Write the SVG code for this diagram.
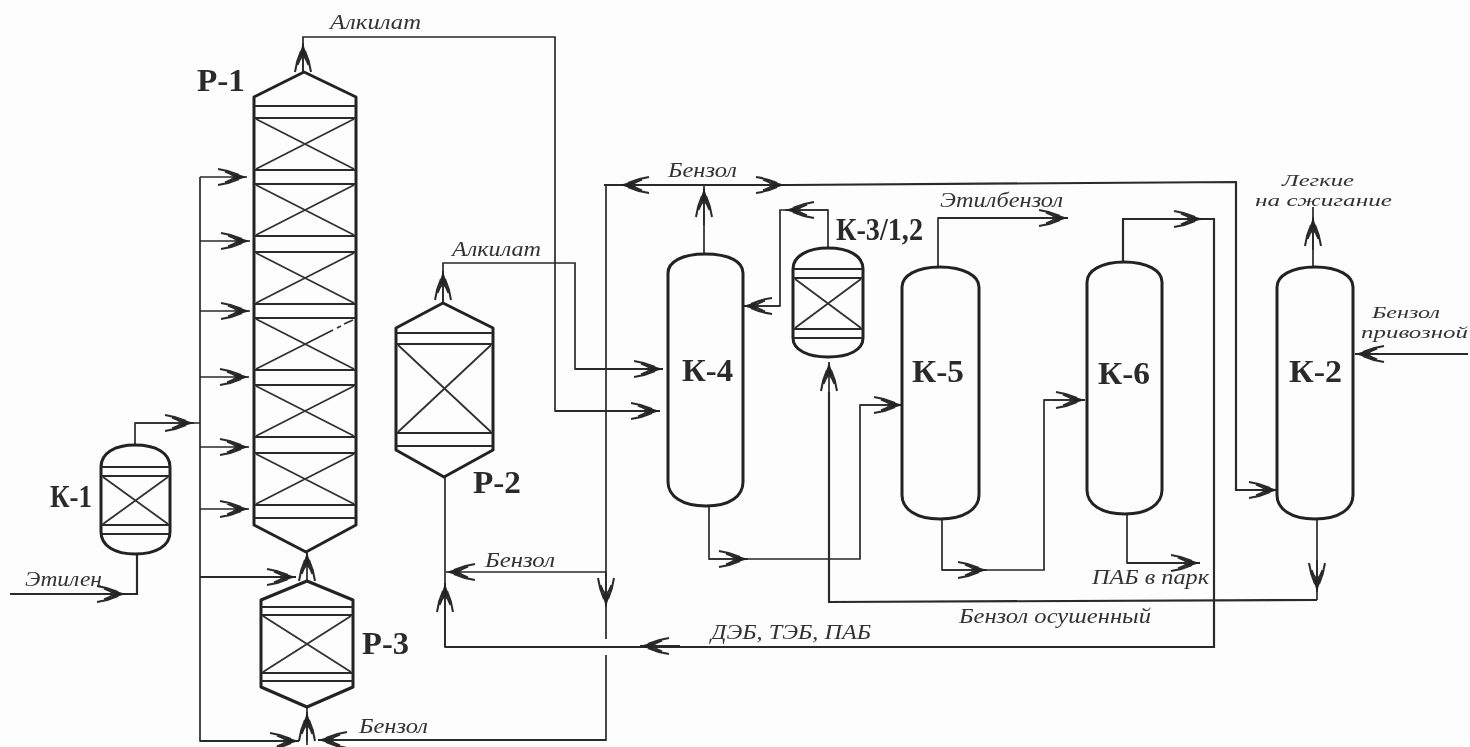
<svg xmlns="http://www.w3.org/2000/svg" width="1470" height="747" viewBox="0 0 1470 747">
<style>
.v{fill:none;stroke:#222;stroke-width:3;stroke-linejoin:round}
.b{fill:none;stroke:#2a2a2a;stroke-width:2.2}
.x{fill:none;stroke:#303030;stroke-width:1.8}
.c{fill:none;stroke:#2a2a2a;stroke-width:1.7}
.c2{fill:none;stroke:#2a2a2a;stroke-width:2.2}
.a{fill:none;stroke:#2a2a2a;stroke-width:1.7}
.l{font-family:"Liberation Serif",serif;font-style:italic;font-size:20px;fill:#333}
.s{font-size:17px}
.n{font-family:"Liberation Serif",serif;font-weight:bold;font-size:31px;fill:#2a2a2a}
</style>
<defs>
<filter id="soft" x="0" y="0" width="1470" height="747" filterUnits="userSpaceOnUse"><feGaussianBlur stdDeviation="0.55"/></filter>
<marker id="ah" markerUnits="userSpaceOnUse" markerWidth="32" markerHeight="22" refX="30" refY="11" orient="auto" overflow="visible">
<path d="M30,11 L15,6.5 Q18,11 15,15.5 Z" fill="#222"/>
<path d="M1,3 Q12,4.5 22,9 M1,19 Q12,17.5 22,13 M8,5.5 Q14,7.5 18,11 Q14,14.5 8,16.5" fill="none" stroke="#2a2a2a" stroke-width="2"/>
</marker>
</defs>
<rect width="1470" height="747" fill="#fdfdfd"/>
<g filter="url(#soft)">
<g id="connectors">
<path class="c" d="M303,72 V37 H555 V411 H635"/>
<path class="a" d="M303,72 V43" marker-end="url(#ah)"/>
<path class="c2" d="M555,411 H660" marker-end="url(#ah)"/>
<path class="c" d="M443,303 V263 H575 V369 H635"/>
<path class="a" d="M443,303 V271" marker-end="url(#ah)"/>
<path class="c2" d="M575,369 H663" marker-end="url(#ah)"/>
<path class="c" d="M200,177 V741 H299"/>
<path class="a" d="M200,177 H247" marker-end="url(#ah)"/>
<path class="a" d="M200,241 H250" marker-end="url(#ah)"/>
<path class="a" d="M200,311 H250" marker-end="url(#ah)"/>
<path class="a" d="M200,377 H249" marker-end="url(#ah)"/>
<path class="a" d="M200,447 H249" marker-end="url(#ah)"/>
<path class="a" d="M200,509 H249" marker-end="url(#ah)"/>
<path class="c2" d="M200,577 H296" marker-end="url(#ah)"/>
<path class="c" d="M135,445 V423 H200"/>
<path class="a" d="M135,423 H194" marker-end="url(#ah)"/>
<path class="c2" d="M10,594 H137 V554"/>
<path class="c2" d="M10,594 H126" marker-end="url(#ah)"/>
<path class="a" d="M307,581 V552" marker-end="url(#ah)"/>
<path class="a" d="M307,741 V707"/>
<path class="a" d="M307,745 V712" marker-end="url(#ah)"/>
<path class="c2" d="M200,741 H299" marker-end="url(#ah)"/>
<path class="c" d="M606,185 V639 M606,655 V740 H360"/>
<path class="c2" d="M606,740 H318" marker-end="url(#ah)"/>
<path class="c" d="M606,572 H446" marker-end="url(#ah)"/>
<path class="a" d="M606,572 V607" marker-end="url(#ah)"/>
<path class="c" d="M445,477 V647 H650"/>
<path class="a" d="M445,647 V583" marker-end="url(#ah)"/>
<path class="c2" d="M445,647 H1214 V219 H1123 V262"/>
<path class="c2" d="M680,646 H640" marker-end="url(#ah)"/>
<path class="a" d="M1123,219 H1203" marker-end="url(#ah)"/>
<path class="c2" d="M604,185 H790 L1236,182 V490 H1278"/>
<path class="c2" d="M660,185 H620" marker-end="url(#ah)"/>
<path class="c2" d="M740,185 H785" marker-end="url(#ah)"/>
<path class="a" d="M1236,490 H1278" marker-end="url(#ah)"/>
<path class="c" d="M704,254 V185"/>
<path class="a" d="M704,225 V188" marker-end="url(#ah)"/>
<path class="c" d="M828,248 V210 H780 V306 H743"/>
<path class="a" d="M828,210 H785" marker-end="url(#ah)"/>
<path class="a" d="M780,306 H743" marker-end="url(#ah)"/>
<path class="c" d="M938,267 V218 H1068"/>
<path class="c2" d="M938,218 H1068" marker-end="url(#ah)"/>
<path class="c" d="M709,506 V559 H860 V405 H903"/>
<path class="a" d="M709,559 H748" marker-end="url(#ah)"/>
<path class="a" d="M860,405 H903" marker-end="url(#ah)"/>
<path class="c" d="M942,519 V570 H1044 V400 H1085"/>
<path class="a" d="M942,570 H987" marker-end="url(#ah)"/>
<path class="a" d="M1044,400 H1085" marker-end="url(#ah)"/>
<path class="c" d="M1127,514 V563 H1200"/>
<path class="c2" d="M1127,563 H1200" marker-end="url(#ah)"/>
<path class="c" d="M1313,267 V207"/>
<path class="a" d="M1313,250 V217" marker-end="url(#ah)"/>
<path class="c2" d="M1468,354 H1355" marker-end="url(#ah)"/>
<path class="c" d="M1317,519 V600"/>
<path class="a" d="M1317,560 V592" marker-end="url(#ah)"/>
<path class="c2" d="M1317,600 L829,602 V392"/>
<path class="a" d="M829,395 V362" marker-end="url(#ah)"/>
</g>
<g id="R-1">
<path class="v" d="M254,97 L304,72 L356,97 V525 L306,552 L254,525 Z"/>
<path class="b" d="M254,106 H356 M254,118 H356 M254,170 H356 M254,184 H356 M254,236 H356 M254,252 H356 M254,304 H356 M254,318 H356 M254,370 H356 M254,385 H356 M254,437 H356 M254,453 H356 M254,505 H356 M254,518 H356"/>
<path class="x" d="M256,119 L354,169 M256,169 L354,119 M256,185 L354,235 M256,235 L354,185 M256,253 L354,303 M256,303 L354,253 M256,319 L354,369 M256,369 L333,330 M337,328 L341,326 M344,324 L353,320 M256,386 L354,436 M256,436 L354,386 M256,454 L354,504 M256,504 L354,454"/>
<text class="n" x="197" y="91" textLength="48" lengthAdjust="spacingAndGlyphs">Р-1</text>
</g>
<g id="R-2">
<path class="v" d="M396,328 L443,303 L493,328 V450 L444,477 L396,450 Z"/>
<path class="b" d="M396,333 H493 M396,344 H493 M396,433 H493 M396,446 H493"/>
<path class="x" d="M398,345 L491,432 M398,432 L491,345"/>
<text class="n" x="473" y="493" textLength="48" lengthAdjust="spacingAndGlyphs">Р-2</text>
</g>
<g id="R-3">
<path class="v" d="M261,600 L307,581 L353,600 V687 L307,707 L261,687 Z"/>
<path class="b" d="M261,607 H353 M261,615 H353 M261,673 H353 M261,681 H353"/>
<path class="x" d="M263,616 L351,672 M263,672 L351,616"/>
<text class="n" x="362" y="654" textLength="47" lengthAdjust="spacingAndGlyphs">Р-3</text>
</g>
<g id="K-1">
<path class="v" d="M101,467 C101,453 115,445 135,445 C156,445 170,453 170,467 V532 C170,546 156,554 135,554 C115,554 101,546 101,532 Z"/>
<path class="b" d="M101,467 H170 M101,476 H170 M101,525 H170 M101,534 H170"/>
<path class="x" d="M103,477 L168,524 M103,524 L168,477"/>
<text class="n" x="50" y="507" textLength="42" lengthAdjust="spacingAndGlyphs">К-1</text>
</g>
<g id="K-3">
<path class="v" d="M793,269 C793,256 808,248 828,248 C849,248 863,256 863,269 V338 C863,350 849,357 828,357 C808,357 793,350 793,338 Z"/>
<path class="b" d="M793,269 H863 M793,278 H863 M793,329 H863 M793,338 H863"/>
<path class="x" d="M795,279 L861,328 M795,328 L861,279"/>
<text class="n" x="836" y="240" textLength="87" lengthAdjust="spacingAndGlyphs">К-3/1,2</text>
</g>
<g id="K-4">
<path class="v" d="M668,273 C668,262 682,254 705,254 C730,254 743,262 743,273 V482 C743,496 730,506 706,506 C682,506 668,496 668,482 Z"/>
<text class="n" x="682" y="381" textLength="51" lengthAdjust="spacingAndGlyphs">К-4</text>
</g>
<g id="K-5">
<path class="v" d="M902,287 C902,276 916,267 940,267 C964,267 979,276 979,287 V495 C979,509 964,519 940,519 C916,519 902,509 902,495 Z"/>
<text class="n" x="912" y="382" textLength="52" lengthAdjust="spacingAndGlyphs">К-5</text>
</g>
<g id="K-6">
<path class="v" d="M1087,282 C1087,271 1101,262 1124,262 C1148,262 1162,271 1162,282 V490 C1162,504 1148,514 1125,514 C1101,514 1087,504 1087,490 Z"/>
<text class="n" x="1098" y="384" textLength="52" lengthAdjust="spacingAndGlyphs">К-6</text>
</g>
<g id="K-2">
<path class="v" d="M1277,287 C1277,276 1291,267 1315,267 C1339,267 1353,276 1353,287 V495 C1353,509 1339,519 1315,519 C1291,519 1277,509 1277,495 Z"/>
<text class="n" x="1289" y="382" textLength="53" lengthAdjust="spacingAndGlyphs">К-2</text>
</g>
<g id="labels">
<text class="l" x="330" y="29" textLength="91" lengthAdjust="spacingAndGlyphs">Алкилат</text>
<text class="l" x="452" y="256" textLength="89" lengthAdjust="spacingAndGlyphs">Алкилат</text>
<text class="l" x="25" y="586" textLength="77" lengthAdjust="spacingAndGlyphs">Этилен</text>
<text class="l" x="485" y="567" textLength="70" lengthAdjust="spacingAndGlyphs">Бензол</text>
<text class="l" x="359" y="733" textLength="69" lengthAdjust="spacingAndGlyphs">Бензол</text>
<text class="l" x="668" y="177" textLength="69" lengthAdjust="spacingAndGlyphs">Бензол</text>
<text class="l" x="940" y="207" textLength="123" lengthAdjust="spacingAndGlyphs">Этилбензол</text>
<text class="l s" x="1282" y="186" textLength="72" lengthAdjust="spacingAndGlyphs">Легкие</text>
<text class="l s" x="1255" y="206" textLength="137" lengthAdjust="spacingAndGlyphs">на сжигание</text>
<text class="l s" x="1372" y="318" textLength="68" lengthAdjust="spacingAndGlyphs">Бензол</text>
<text class="l s" x="1361" y="338" textLength="107" lengthAdjust="spacingAndGlyphs">привозной</text>
<text class="l" x="1092" y="584" textLength="117" lengthAdjust="spacingAndGlyphs">ПАБ в парк</text>
<text class="l" x="959" y="623" textLength="192" lengthAdjust="spacingAndGlyphs">Бензол осушенный</text>
<text class="l" x="711" y="639" textLength="160" lengthAdjust="spacingAndGlyphs">ДЭБ, ТЭБ, ПАБ</text>
</g>
</g>
</svg>
